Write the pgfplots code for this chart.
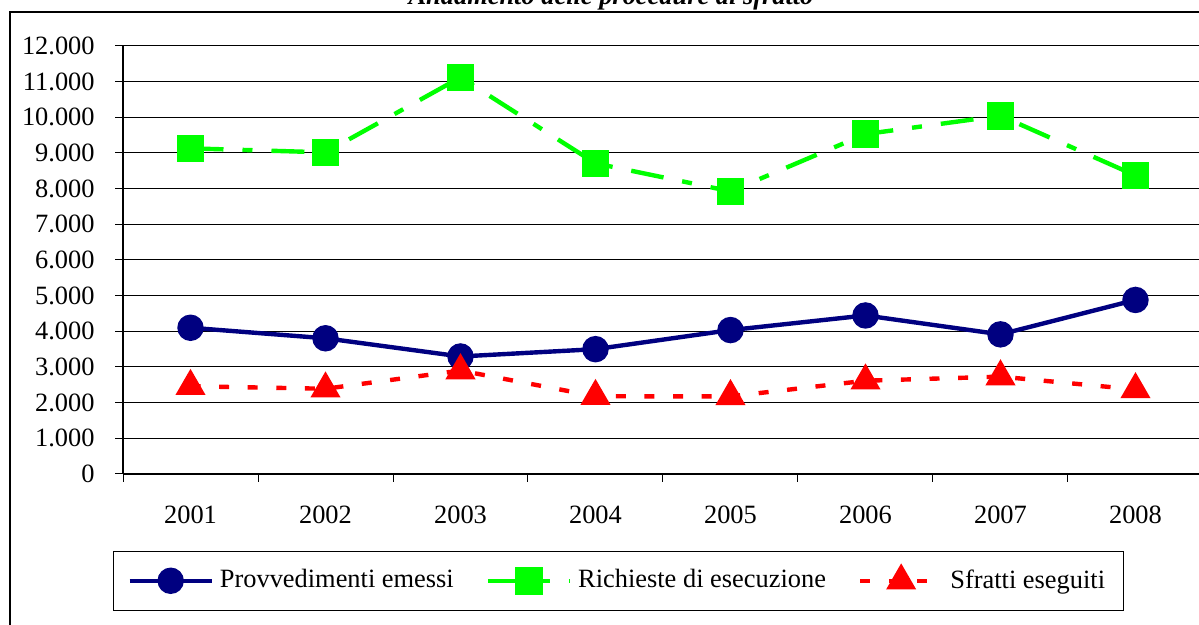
\documentclass[border=0pt]{standalone}
\usepackage{pgfplots}
\pgfplotsset{compat=1.18}
\usepackage{fontspec}
\setmainfont{Liberation Serif}
\definecolor{navy}{HTML}{000080}
\definecolor{lgreen}{HTML}{00FF00}
\definecolor{lred}{HTML}{FF0000}
\begin{document}
\fontsize{13.2}{15.8}\selectfont
\begin{tikzpicture}
\useasboundingbox (0,0) rectangle (599.5pt,312.5pt);
\clip (0,0) rectangle (599.5pt,312.5pt);
\draw[black, line width=0.6pt] (5pt,-20pt) rectangle (620pt,306.5pt);
\node[anchor=base, font=\bfseries\itshape] at (305.5pt,310pt) {Andamento delle procedure di sfratto};
\begin{axis}[
  at={(61.5pt,75.5pt)}, anchor=south west,
  scale only axis, width=540pt, height=214pt,
  xmin=0.5, xmax=8.5, ymin=0, ymax=12000,
  axis x line*=bottom, axis y line*=left,
  axis line style={black, line width=0.7pt},
  tick align=outside, major tick length=4pt,
  tick style={black, line width=0.5pt},
  ytick={0,1000,...,12000},
  scaled y ticks=false,
  /pgf/number format/.cd, fixed, precision=0, 1000 sep={.}, assume math mode=true,
  /pgfplots/.cd,
  yticklabel style={anchor=east, inner sep=0pt, xshift=-10pt},
  ymajorgrids, grid style={black, line width=0.5pt},
  xtick={0.5,1.5,...,8.5}, xticklabels={},
  extra x ticks={1,2,3,4,5,6,7,8},
  extra x tick labels={2001,2002,2003,2004,2005,2006,2007,2008},
  extra x tick style={major tick length=0pt, xticklabel style={anchor=north, inner sep=0pt, yshift=-16pt}},
  legend columns=3,
  legend style={at={(axis description cs:-0.00926,-0.1799)}, anchor=north west,
    draw=black, line width=0.5pt, inner xsep=7pt, inner ysep=7pt,
    nodes={inner sep=2pt},
    /tikz/every odd column/.append style={column sep=1pt},
    /tikz/every even column/.append style={column sep=14pt}},
  legend cell align=left,
  legend image code/.code={\draw[mark repeat=2, mark phase=2] plot coordinates {(0pt,0pt) (20.5pt,0pt) (41pt,0pt)};},
]
\addplot[navy, line width=2.2pt, mark=*, mark size=5.5pt, mark options={solid, fill=navy}]
  coordinates {(1,4100) (2,3805) (3,3295) (4,3500) (5,4035) (6,4445) (7,3915) (8,4880)};
\addlegendentry{Provvedimenti emessi}
\addplot[lgreen, line width=2.2pt, dash pattern=on 16.5pt off 9.5pt on 5pt off 9.5pt, mark=square*, mark size=5.8pt, mark options={solid, fill=lgreen}]
  coordinates {(1,9130) (2,9017) (3,11120) (4,8710) (5,7925) (6,9530) (7,10045) (8,8370)};
\addlegendentry{Richieste di esecuzione}
\addplot[lred, line width=2.2pt, dash pattern=on 5pt off 9.3pt, mark=triangle*, mark size=6.5pt, mark options={solid, fill=lred}]
  coordinates {(1,2460) (2,2390) (3,2900) (4,2180) (5,2175) (6,2615) (7,2730) (8,2370)};
\addlegendentry{Sfratti eseguiti}
\end{axis}
\end{tikzpicture}
\end{document}
